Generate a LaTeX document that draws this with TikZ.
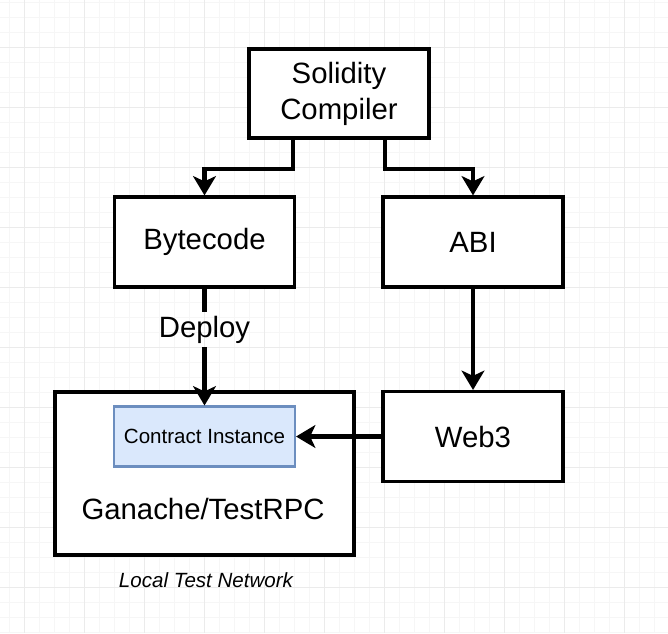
\documentclass[tikz,border=0pt]{standalone}
\usepackage{fontspec}
\setmainfont{Liberation Sans}
\usetikzlibrary{arrows.meta,calc}

\begin{document}
\begin{tikzpicture}[x=0.02cm, y=-0.02cm,
	box/.style={draw=black, line width=1.8pt, fill=white, minimum width=3.6cm, minimum height=1.8cm, align=center, font=\fontsize{16.7}{20.4}\selectfont},
	flow/.style={line width=2.3pt, -{Stealth[length=11pt, width=13pt, inset=3pt]}},
	stem/.style={line width=2.3pt},
	gridminor/.style={draw=black!3.5, line width=0.4pt},
	gridmajor/.style={draw=black!8, line width=0.5pt}]

	%draw the background grid
	\useasboundingbox (0,0) rectangle (668,633);
	\fill[white] (0,0) rectangle (668,633);
	\foreach \gx in {9,24,...,669} \draw[gridminor] (\gx,0) -- (\gx,633);
	\foreach \gy in {2,17,...,632} \draw[gridminor] (0,\gy) -- (668,\gy);
	\foreach \gx in {24,84,...,624} \draw[gridmajor] (\gx,0) -- (\gx,633);
	\foreach \gy in {47,107,...,587} \draw[gridmajor] (0,\gy) -- (668,\gy);

	%the boxes
	\node[box, minimum height=1.78cm] (compiler) at (339,93.5) {Solidity\\Compiler};
	\node[box] (bytecode) at (204.5,242) {Bytecode};
	\node[box] (abi) at (473,242) {ABI};
	\node[box] (web3) at (473,436.5) {Web3};
	\node[box, minimum width=5.98cm, minimum height=3.26cm] (ganache) at (204.5,473.5) {};
	\node[anchor=base, font=\fontsize{16.7}{20.4}\selectfont] (ganachetext) at (203,519) {Ganache/TestRPC};
	\node[draw={rgb,255:red,108;green,142;blue,191}, fill={rgb,255:red,218;green,232;blue,252}, line width=1.2pt, minimum width=3.62cm, minimum height=1.2cm, font=\fontsize{11.7}{14}\selectfont] (contract) at (204.5,436.5) {Contract Instance};
	\node[font=\fontsize{11.7}{14}\selectfont\itshape] (network) at (206,580) {Local Test Network};
	\node[font=\fontsize{16.7}{20.4}\selectfont, inner sep=2.2pt] (deploy) at (204.5,329.5) {Deploy};

	%the arrows
	\draw[flow] ($(compiler.south west)!0.25!(compiler.south east)$) -- ++(0,29) -| (bytecode.north);
	\draw[flow] ($(compiler.south west)!0.75!(compiler.south east)$) -- ++(0,29) -| (abi.north);
	\draw[stem] (bytecode.south) -- (deploy.north);
	\draw[flow] (deploy.south) -- (contract.north);
	\draw[flow] (abi.south) -- (web3.north);
	\draw[flow] (web3.west) -- (contract.east);

\end{tikzpicture}
\end{document}
